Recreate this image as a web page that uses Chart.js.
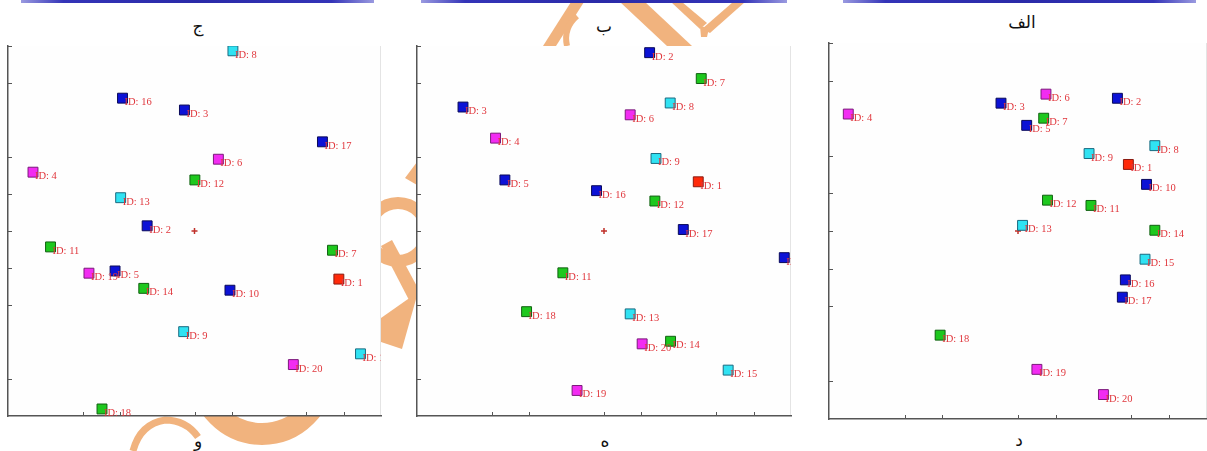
<!DOCTYPE html>
<html>
<head>
<meta charset="utf-8">
<script src="https://cdn.jsdelivr.net/npm/chart.js@4/dist/chart.umd.min.js"></script>
<style>
  body { margin: 0; background: #fff; }
  #page { position: relative; width: 1207px; height: 451px; overflow: hidden; background: #fff; }
  #wm { position: absolute; left: 0; top: 0; z-index: 0; }
  canvas { position: absolute; z-index: 1; }
  .bar { position: absolute; top: 0; height: 3px; z-index: 2;
         background: linear-gradient(90deg, #9a9ae0 0%, #3434b8 12%, #2a2aa8 50%, #3434b8 88%, #9a9ae0 100%); }
  .lbl { position: absolute; z-index: 2; font-family: "DejaVu Sans", "Noto Sans", sans-serif; font-size: 17px;
         color: #111; transform: translateX(-50%); white-space: nowrap; }
</style>
</head>
<body>
<div id="page">
  <svg id="wm" width="1207" height="451">
    <g fill="#f1b37e" stroke="none">
      <!-- حلقه بین دو نمودار چپ -->
      <circle cx="398" cy="232" r="29" fill="none" stroke="#f1b37e" stroke-width="12"/>
      <polygon points="381,246 392,240 420,292 409,300"/>
      <polygon points="381,318 418,292 402,349 381,342"/>
      <polygon points="405,178 417,162 417,185"/>
      <!-- پایین نمودار چپ -->
      <circle cx="262" cy="372" r="62" fill="none" stroke="#f1b37e" stroke-width="22"/>
      <path d="M133,451 Q140,424 165,420 Q186,420 198,437" fill="none" stroke="#f1b37e" stroke-width="7"/>
      <!-- بالای نمودار وسط -->
      <polygon points="543,46 556,46 584,2 571,2"/>
      <path d="M577,16 Q563,28 567,46" fill="none" stroke="#f1b37e" stroke-width="6"/>
      <polygon points="620,2 645,2 692,46 667,46"/>
      <polygon points="671,2 682,2 707,23 700,29"/>
      <polygon points="733,2 745,2 710,33 702,29"/>
      <polygon points="700,26 709,28 707,37 701,37"/>
    </g>
  </svg>

  <div class="bar" style="left:21px;width:353px"></div>
  <div class="bar" style="left:421px;width:366px"></div>
  <div class="bar" style="left:843px;width:353px"></div>

  <div class="lbl" style="left:198px;top:16px">ج</div>
  <div class="lbl" style="left:604px;top:16px">ب</div>
  <div class="lbl" style="left:1022px;top:12px">الف</div>
  <div class="lbl" style="left:198px;top:431px">و</div>
  <div class="lbl" style="left:605px;top:431px">ه</div>
  <div class="lbl" style="left:1019px;top:430px">د</div>

  <canvas id="c1" width="395" height="385" style="left:0px;top:40px"></canvas>
  <canvas id="c2" width="400" height="390" style="left:405px;top:40px"></canvas>
  <canvas id="c3" width="392" height="395" style="left:815px;top:35px"></canvas>
</div>

<script>
// شناسه‌ها و نوع هر نقطه (رنگ)
const ids = [1, 2, 3, 4, 5, 6, 7, 8, 9, 10, 11, 12, 13, 14, 15, 16, 17, 18, 19, 20];
const kinds = ['red', 'blue', 'blue', 'magenta', 'blue', 'magenta', 'green', 'cyan', 'cyan', 'blue',
               'green', 'green', 'cyan', 'green', 'cyan', 'blue', 'blue', 'green', 'magenta', 'magenta'];

// نمودار ج (چپ)
const xJim = [8.87, 3.73, 4.73, 0.67, 2.87, 5.64, 8.70, 6.03, 4.71, 5.95, 1.14, 5.01, 3.02, 3.64, 9.45, 3.07, 8.43, 2.52, 2.17, 7.65];
const yJim = [3.70, 5.14, 8.27, 6.59, 3.92, 6.94, 4.48, 9.87, 2.28, 3.40, 4.57, 6.38, 5.90, 3.45, 1.68, 8.59, 7.41, 0.19, 3.86, 1.39];

// نمودار ب (وسط)
const xBe = [7.52, 6.22, 1.23, 2.10, 2.35, 5.70, 7.60, 6.77, 6.39, 9.82, 3.90, 6.36, 5.70, 6.78, 8.32, 4.80, 7.12, 2.93, 4.28, 6.02];
const yBe = [6.33, 9.82, 8.35, 7.51, 6.38, 8.14, 9.12, 8.46, 6.96, 4.28, 3.87, 5.81, 2.76, 2.02, 1.24, 6.09, 5.04, 2.82, 0.69, 1.95];

// نمودار الف (راست)
const xAlef = [7.92, 7.63, 4.55, 0.51, 5.23, 5.74, 5.68, 8.62, 6.88, 8.40, 6.93, 5.78, 5.12, 8.62, 8.36, 7.84, 7.76, 2.94, 5.50, 7.26];
const yAlef = [6.77, 8.53, 8.40, 8.11, 7.81, 8.64, 8.00, 7.27, 7.06, 6.24, 5.68, 5.82, 5.15, 5.02, 4.25, 3.70, 3.24, 2.23, 1.32, 0.65];

// مرکز (+) و تیک‌های محورها
const center = { x: 5, y: 5 };
const xTicks = [2, 3, 5, 6, 8, 9];
const yTicks = [1, 3, 4, 5, 6, 7, 9, 10];

const fillOf = { red: '#ff2a0a', blue: '#0c12d6', cyan: '#30e2f2', green: '#1ec81e', magenta: '#f22cf2' };
const edgeOf = { red: '#8a1a10', blue: '#0a0a5a', cyan: '#1a6a80', green: '#106010', magenta: '#7a1a7a' };

// زمینه سفید ناحیه رسم + خط کم‌رنگ سمت راست
const bgPlugin = {
    id: 'bgFill',
    beforeDraw(chart) {
        const a = chart.chartArea, ctx = chart.ctx;
        ctx.save();
        ctx.fillStyle = '#fefefe';
        ctx.fillRect(a.left, a.top, a.right - a.left, a.bottom - a.top);
        ctx.strokeStyle = '#e4e4e4';
        ctx.lineWidth = 1;
        ctx.beginPath();
        ctx.moveTo(a.right - 0.5, a.top);
        ctx.lineTo(a.right - 0.5, a.bottom);
        ctx.stroke();
        ctx.restore();
    }
};

// برچسب‌های ID و تیک‌های رو به داخل
const labelPlugin = {
    id: 'idLabels',
    afterDatasetsDraw(chart) {
        const a = chart.chartArea, ctx = chart.ctx;
        const meta = chart.getDatasetMeta(0);
        ctx.save();
        ctx.beginPath();
        ctx.rect(a.left, a.top, a.right - a.left, a.bottom - a.top);
        ctx.clip();
        ctx.font = '10.5px "Liberation Serif", "DejaVu Serif", serif';
        ctx.fillStyle = '#e0363c';
        ctx.textBaseline = 'alphabetic';
        meta.data.forEach((pt, i) => {
            ctx.fillText('ID: ' + ids[i], pt.x + 2, pt.y + 7);
        });
        ctx.restore();
    },
    afterDraw(chart) {
        const a = chart.chartArea, ctx = chart.ctx;
        const xs = chart.scales.x, ys = chart.scales.y;
        ctx.save();
        ctx.strokeStyle = '#555';
        ctx.lineWidth = 1;
        ctx.beginPath();
        xTicks.forEach(v => {
            const px = Math.round(xs.getPixelForValue(v)) + 0.5;
            ctx.moveTo(px, a.bottom);
            ctx.lineTo(px, a.bottom - 4);
        });
        yTicks.forEach(v => {
            const py = Math.round(ys.getPixelForValue(v)) + 0.5;
            ctx.moveTo(a.left, py);
            ctx.lineTo(a.left + 4, py);
        });
        ctx.stroke();
        ctx.restore();
    }
};

function makePanel(id, xs, ys, pad) {
    const pts = xs.map((x, i) => ({ x: x, y: ys[i] }));
    new Chart(document.getElementById(id), {
        type: 'scatter',
        data: {
            datasets: [{
                data: pts,
                pointStyle: 'rect',
                pointRadius: 7,
                pointHoverRadius: 7,
                pointBorderWidth: 1,
                backgroundColor: kinds.map(k => fillOf[k]),
                borderColor: kinds.map(k => edgeOf[k]),
                clip: 0
            }, {
                data: [center],
                pointStyle: 'cross',
                pointRadius: 3,
                pointBorderWidth: 1.5,
                borderColor: '#c0302a',
                backgroundColor: '#c0302a'
            }]
        },
        options: {
            responsive: false,
            animation: false,
            layout: { padding: pad, autoPadding: false },
            plugins: { legend: { display: false }, tooltip: { enabled: false } },
            scales: {
                x: {
                    type: 'linear', min: 0, max: 10,
                    ticks: { display: false },
                    grid: { drawOnChartArea: false, drawTicks: false },
                    border: { display: true, color: '#555', width: 1.5 }
                },
                y: {
                    type: 'linear', min: 0, max: 10,
                    ticks: { display: false },
                    grid: { drawOnChartArea: false, drawTicks: false },
                    border: { display: true, color: '#555', width: 1.5 }
                }
            }
        },
        plugins: [bgPlugin, labelPlugin]
    });
}

makePanel('c1', xJim, yJim, { left: 8, top: 6, right: 14, bottom: 9 });
makePanel('c2', xBe, yBe, { left: 12, top: 6, right: 14, bottom: 14 });
makePanel('c3', xAlef, yAlef, { left: 14, top: 8, right: 0, bottom: 11 });
</script>
</body>
</html>
